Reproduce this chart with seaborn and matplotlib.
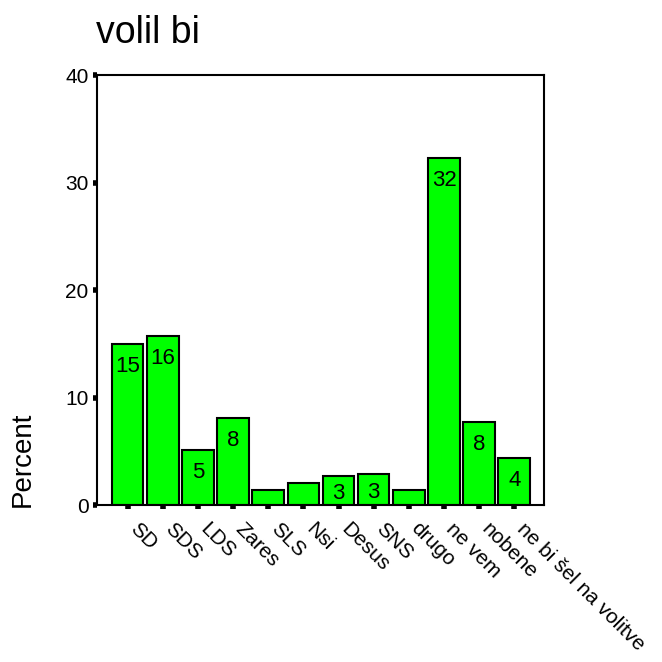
import matplotlib
matplotlib.use("Agg")
import matplotlib.pyplot as plt
import matplotlib.transforms as mtransforms
import seaborn as sns
import pandas as pd

# podatki
stranke = ['SD', 'SDS', 'LDS', 'Zares', 'SLS', 'Nsi', 'Desus', 'SNS', 'drugo',
           'ne vem', 'nobene', 'ne bi šel na volitve']
odstotki = [15.0, 15.7, 5.1, 8.1, 1.4, 2.1, 2.7, 2.9, 1.4, 32.3, 7.7, 4.4]
oznake = ['15', '16', '5', '8', '', '', '3', '3', '', '32', '8', '4']
yticks = [0, 10, 20, 30, 40]

dados = pd.DataFrame({'stranka': stranke, 'odstotek': odstotki})

sns.set_style('white')
plt.rcParams['font.family'] = ['Liberation Sans', 'DejaVu Sans']
plt.rcParams['text.color'] = 'black'
plt.rcParams['xtick.color'] = 'black'
plt.rcParams['ytick.color'] = 'black'

fig = plt.figure(figsize=(6.62, 6.62), dpi=100)
ax = fig.add_axes([0.1465, 0.237, 0.675, 0.6497])

sns.barplot(data=dados, x='stranka', y='odstotek', color='#00ff00', saturation=1,
            edgecolor='black', linewidth=1.5, width=0.9, ax=ax)

# oznake v stolpcih (pri nizkih stolpcih bližje vrhu)
for i, (v, t) in enumerate(zip(odstotki, oznake)):
    if t:
        ax.text(i, v - min(1.1, 0.25 * v), t, ha='center', va='top',
                fontsize=16, color='black')

ax.set_xlim(-0.87, 11.84)
ax.set_ylim(0, 40)
ax.set_yticks(yticks)
ax.set_yticklabels([str(t) for t in yticks], fontsize=15)
ax.set_xticks(range(len(stranke)))
ax.set_xticklabels(stranke, rotation=-45, ha='left', va='top',
                   rotation_mode='anchor', fontsize=15)
ax.tick_params(axis='both', direction='out', length=3, width=4, color='black',
               bottom=True, left=True)
ax.tick_params(axis='x', pad=7)
ax.tick_params(axis='y', pad=3)

# zamik oznak v desno
premik = mtransforms.ScaledTranslation(12 / 100, 0, fig.dpi_scale_trans)
for lab in ax.get_xticklabels():
    lab.set_transform(lab.get_transform() + premik)

for s in ax.spines.values():
    s.set_visible(True)
    s.set_color('black')
    s.set_linewidth(1.5)

ax.set_xlabel('')
ax.set_ylabel('')
fig.text(0.145, 0.95, 'volil bi', fontsize=27, ha='left', va='center')
fig.text(0.035, 0.234, 'Percent', fontsize=20, rotation=90, ha='center', va='bottom')

fig.savefig('out.png', dpi=100)
